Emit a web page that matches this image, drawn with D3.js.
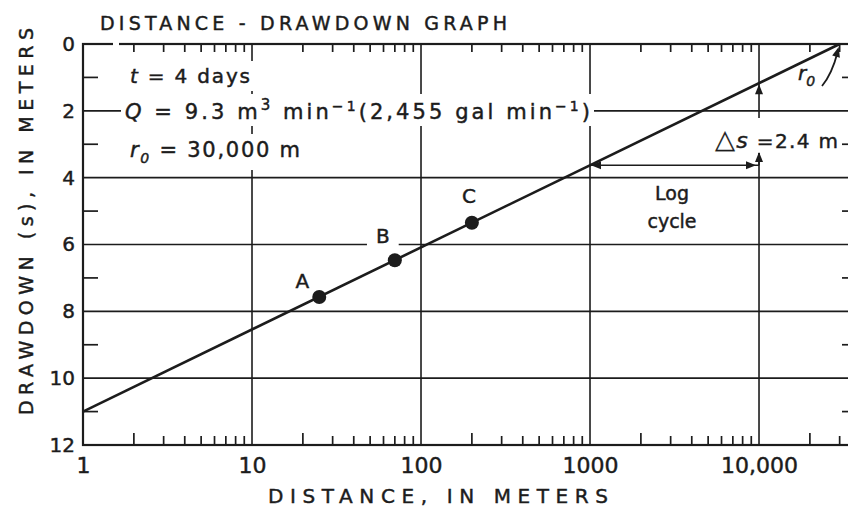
<!DOCTYPE html>
<html><head><meta charset="utf-8">
<script src="https://cdn.jsdelivr.net/npm/d3@7"></script>
<style>
body{margin:0;background:#fff;}
svg{display:block;}
text{font-family:"DejaVu Sans",sans-serif;fill:#1c1c1c;stroke:#1c1c1c;stroke-width:0.45px;}
</style>
</head><body>
<svg id="c" width="848" height="512"></svg>
<script>
// ---- data ----
const xTickValues = [1, 10, 100, 1000, 10000];
const xTickLabels = ["1", "10", "100", "1000", "10,000"];
const yTickValues = [0, 2, 4, 6, 8, 10, 12];
const yMinorValues = [1, 3, 5, 7, 9, 11];
const xGridValues = [10, 100, 1000, 10000];
const yGridValues = [2, 4, 6, 8, 10];
const lineDistance = [1, 30000];
const lineDrawdown = [11.0, 0];
const pointNames = ["A", "B", "C"];
const pointDistance = [25, 70, 200];
const pointDrawdown = [7.57, 6.47, 5.35];
const logCycleFrom = 1000, logCycleTo = 10000;
const r0Distance = 30000;

const ink = "#1c1c1c";
const svg = d3.select("#c");
const L = 83, R = 857, T = 44, B = 445;
const x = d3.scaleLog().domain([1, 38000]).range([L, R]);
const y = d3.scaleLinear().domain([0, 12]).range([T, B]);
const lineS = d => {
  const t = (Math.log10(d) - Math.log10(lineDistance[0])) / (Math.log10(lineDistance[1]) - Math.log10(lineDistance[0]));
  return lineDrawdown[0] + t * (lineDrawdown[1] - lineDrawdown[0]);
};

const minorX = [];
[1, 10, 100, 1000, 10000].forEach(dec => { for (let k = 2; k <= 9; k++) { const v = dec * k; if (v < 38000) minorX.push(v); } });
const isTwo = d => Math.abs(Math.log10(d / 2) - Math.round(Math.log10(d / 2))) < 1e-9;

// grid
const grid = svg.append("g").attr("stroke", ink).attr("stroke-width", 1.6);
grid.selectAll("line.h").data(yGridValues).join("line").attr("class", "h")
  .attr("x1", L).attr("x2", R).attr("y1", d => y(d)).attr("y2", d => y(d));
grid.selectAll("line.v").data(xGridValues).join("line").attr("class", "v")
  .attr("y1", T).attr("y2", B).attr("x1", d => x(d)).attr("x2", d => x(d));

// minor ticks
const ticks = svg.append("g").attr("stroke", ink).attr("stroke-width", 1.7);
ticks.selectAll("line.t").data(minorX).join("line").attr("class", "t")
  .attr("x1", d => x(d)).attr("x2", d => x(d)).attr("y1", T).attr("y2", T + 8);
ticks.selectAll("line.b").data(minorX).join("line").attr("class", "b")
  .attr("x1", d => x(d)).attr("x2", d => x(d)).attr("y1", B).attr("y2", d => B - (isTwo(d) ? 12 : 9));
ticks.selectAll("line.l").data(yMinorValues).join("line").attr("class", "l")
  .attr("x1", L).attr("x2", L + 15).attr("y1", d => y(d)).attr("y2", d => y(d));
ticks.selectAll("line.r").data(yMinorValues).join("line").attr("class", "r")
  .attr("x1", R - 15).attr("x2", R).attr("y1", d => y(d)).attr("y2", d => y(d));

// frame
svg.append("rect").attr("x", L).attr("y", T).attr("width", R - L).attr("height", B - T)
  .attr("fill", "none").attr("stroke", ink).attr("stroke-width", 2.2);
// small gap in top border (as in original drawing)
svg.append("line").attr("x1", 113).attr("x2", 119).attr("y1", T).attr("y2", T)
  .attr("stroke", "#fff").attr("stroke-width", 4);

// tick labels
const xAx = svg.append("g").attr("transform", `translate(0,${B})`)
  .call(d3.axisBottom(x).tickValues(xTickValues).tickSize(0).tickPadding(12)
    .tickFormat((d, i) => xTickLabels[i]));
xAx.select(".domain").remove();
xAx.selectAll("text").attr("font-size", 22).attr("fill", ink).attr("font-family", "DejaVu Sans");
const yAx = svg.append("g").attr("transform", `translate(${L},0)`)
  .call(d3.axisLeft(y).tickValues(yTickValues).tickSize(0).tickPadding(8));
yAx.select(".domain").remove();
yAx.selectAll("text").attr("font-size", 20).attr("fill", ink).attr("font-family", "DejaVu Sans");

// titles
svg.append("text").attr("x", 100).attr("y", 30).attr("font-size", 19)
  .attr("textLength", 407).attr("lengthAdjust", "spacing").text("DISTANCE - DRAWDOWN GRAPH");
svg.append("text").attr("x", 268).attr("y", 503).attr("font-size", 20)
  .attr("textLength", 340).attr("lengthAdjust", "spacing").text("DISTANCE,  IN  METERS");
svg.append("text").attr("transform", "translate(33,415) rotate(-90)").attr("font-size", 19)
  .attr("textLength", 387).attr("lengthAdjust", "spacing").text("DRAWDOWN  (s),  IN  METERS");

function boxed(g, pad) {
  const bb = g.select("text").node().getBBox();
  g.insert("rect", "text").attr("x", bb.x - pad[0]).attr("y", bb.y - pad[1])
    .attr("width", bb.width + 2 * pad[0]).attr("height", bb.height + 2 * pad[1])
    .attr("fill", "#fff").attr("stroke", "none");
}

// annotation block
let g1 = svg.append("g");
let t1 = g1.append("text").attr("x", 130).attr("y", 83).attr("font-size", 20)
  .attr("textLength", 120).attr("lengthAdjust", "spacing");
t1.append("tspan").attr("font-style", "italic").text("t");
t1.append("tspan").text(" = 4 days");
boxed(g1, [4, 3]);

let g2 = svg.append("g");
let t2 = g2.append("text").attr("x", 125).attr("y", 119).attr("font-size", 21)
  .attr("textLength", 465).attr("lengthAdjust", "spacing");
t2.append("tspan").attr("font-style", "italic").text("Q");
t2.append("tspan").text(" = 9.3 m");
t2.append("tspan").attr("dy", -9).attr("font-size", 15).text("3");
t2.append("tspan").attr("dy", 9).text("  min");
t2.append("tspan").attr("dy", -8).attr("font-size", 14).text("−1");
t2.append("tspan").attr("dy", 8).text("(2,455 gal min");
t2.append("tspan").attr("dy", -8).attr("font-size", 14).text("−1");
t2.append("tspan").attr("dy", 8).text(")");
boxed(g2, [4, 2]);

let g3 = svg.append("g");
let t3 = g3.append("text").attr("x", 130).attr("y", 157).attr("font-size", 21)
  .attr("textLength", 170).attr("lengthAdjust", "spacing");
t3.append("tspan").attr("font-style", "italic").text("r");
t3.append("tspan").attr("dy", 6).attr("font-size", 14).attr("font-style", "italic").text("0");
t3.append("tspan").attr("dy", -6).text(" = 30,000 m");
boxed(g3, [5, 4]);

// fitted line
svg.append("path").datum(lineDistance.map((d, i) => [d, lineDrawdown[i]]))
  .attr("fill", "none").attr("stroke", ink).attr("stroke-width", 2.6)
  .attr("d", d3.line().x(d => x(d[0])).y(d => y(d[1])));

// points
const labelOffsets = [[-17, -9], [-12, -17], [-3, -20]];
pointNames.forEach((nm, i) => {
  const px = x(pointDistance[i]), py = y(pointDrawdown[i]);
  const g = svg.append("g");
  g.append("text").attr("x", px + labelOffsets[i][0]).attr("y", py + labelOffsets[i][1])
    .attr("text-anchor", "middle").attr("font-size", 20).text(nm);
  if (nm === "B") boxed(g, [9, -2]);
  svg.append("circle").attr("cx", px).attr("cy", py).attr("r", 7).attr("fill", ink);
});

function head(xp, yp, ang) {
  const len = 10, w = 4;
  const a = ang * Math.PI / 180;
  const bx = xp - len * Math.cos(a), by = yp - len * Math.sin(a);
  const nx = -Math.sin(a) * w, ny = Math.cos(a) * w;
  svg.append("path").attr("d", `M${xp},${yp}L${bx + nx},${by + ny}L${bx - nx},${by - ny}Z`).attr("fill", ink);
}

// log cycle dimension
const yLC = y(lineS(logCycleFrom));
const xa = x(logCycleFrom), xb = x(logCycleTo);
const gS = svg.append("g");
const tS = gS.append("text").attr("x", 715).attr("y", 148).attr("font-size", 20)
  .attr("textLength", 123).attr("lengthAdjust", "spacing");
tS.append("tspan").attr("font-size", 26).attr("stroke-width", 0.2).text("△");
tS.append("tspan").attr("font-style", "italic").attr("font-size", 22).text("s");
tS.append("tspan").text(" =2.4 m");
gS.insert("rect", "text").attr("x", xb - 4).attr("y", 118).attr("width", 8).attr("height", 35)
  .attr("fill", "#fff");

svg.append("line").attr("x1", xa).attr("x2", xb).attr("y1", yLC).attr("y2", yLC)
  .attr("stroke", ink).attr("stroke-width", 1.6);
head(xa + 1, yLC, 180);
head(xb - 3, yLC, 0);
svg.append("line").attr("x1", xb).attr("x2", xb).attr("y1", yLC).attr("y2", 153)
  .attr("stroke", ink).attr("stroke-width", 1.6);
head(xb, 152, -90);
const yTop = y(lineS(logCycleTo));
head(xb, yTop + 1, -90);

svg.append("text").attr("x", 672).attr("y", 200).attr("text-anchor", "middle").attr("font-size", 19).text("Log");
svg.append("text").attr("x", 672).attr("y", 228).attr("text-anchor", "middle").attr("font-size", 19).text("cycle");

// r0 label
const rx = x(r0Distance);
const tr = svg.append("text").attr("x", 798).attr("y", 80).attr("font-size", 20).attr("font-style", "italic");
tr.append("tspan").text("r");
tr.append("tspan").attr("dy", 6).attr("font-size", 14).text("0");
svg.append("path").attr("d", `M822,86 Q832,74 ${rx - 2},52`).attr("fill", "none")
  .attr("stroke", ink).attr("stroke-width", 1.8);
head(rx - 1, 47, -75);
</script>
</body></html>
